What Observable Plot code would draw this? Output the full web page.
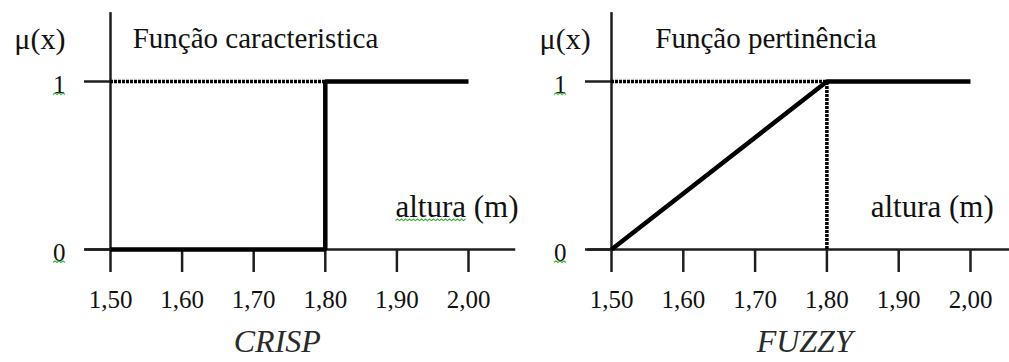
<!DOCTYPE html>
<html>
<head>
<meta charset="utf-8">
<script src="https://cdn.jsdelivr.net/npm/d3@7"></script>
<script src="https://cdn.jsdelivr.net/npm/@observablehq/plot@0.6"></script>
<style>
  body { margin: 0; background: #fff; }
  #wrap { position: relative; width: 1009px; height: 362px; overflow: hidden; }
  #wrap > svg { position: absolute; top: 0; background: transparent; }
</style>
</head>
<body>
<div id="wrap"></div>
<script>
// Height (m) ticks and membership ticks
const alturaTicks = [1.5, 1.6, 1.7, 1.8, 1.9, 2.0];
const muTicks = [0, 1];
const limiar = 1.8; // threshold height

// Characteristic (crisp) function: step at 1,80
const crispAltura = [1.5, 1.8, 1.8, 2.0];
const crispMu = [0, 0, 1, 1];

// Membership (fuzzy) function: linear ramp from 1,50 to 1,80
const fuzzyAltura = [1.5, 1.8, 2.0];
const fuzzyMu = [0, 1, 1];

const titulos = ["Função caracteristica", "Função pertinência"];
const legendas = ["CRISP", "FUZZY"];
const eixoX = "altura (m)";
const eixoY = "μ(x)";

const serif = "'Liberation Serif', 'Times New Roman', serif";
const ink = "#111";
const axisInk = "#1e1e1e";
const dotted = "3,1";
const fmt = d => d.toFixed(2).replace(".", ",");

// green spell-check squiggle under the first n characters of a text element
function squiggle(textEl, n) {
  let box;
  try { box = textEl.getBBox(); } catch (e) { return; }
  const full = textEl.getComputedTextLength();
  const part = n >= textEl.textContent.length ? full : textEl.getSubStringLength(0, n);
  const x0 = box.x, x1 = box.x + box.width * (part / full);
  const y = box.y + box.height - 3;
  const p = d3.path();
  p.moveTo(x0, y);
  let up = true;
  for (let x = x0 + 2; x <= x1 + 0.1; x += 2, up = !up) p.lineTo(x, y + (up ? -1.6 : 0));
  const path = document.createElementNS("http://www.w3.org/2000/svg", "path");
  path.setAttribute("d", p.toString());
  const tr = textEl.getAttribute("transform");
  if (tr) path.setAttribute("transform", tr);
  path.setAttribute("fill", "none");
  path.setAttribute("stroke", "#36b336");
  path.setAttribute("stroke-width", "1.1");
  textEl.parentNode.appendChild(path);
}

function painel({left, width, marginLeft, marginRight, xs, mus, titulo, legenda,
                 axisFrom, axisTo, muX, tituloX, alturaX, legendaX, fuzzy, spell}) {
  const pts = xs.map((x, i) => ({x, mu: mus[i]}));
  const svg = Plot.plot({
    width, height: 362,
    marginLeft, marginRight, marginTop: 81, marginBottom: 113,
    style: {fontFamily: serif, color: ink, background: "transparent", overflow: "visible"},
    x: {domain: [1.5, 2.0], label: null},
    y: {domain: [0, 1], label: null},
    marks: [
      // axis lines
      Plot.ruleY([0], {x1: axisFrom, x2: axisTo, stroke: axisInk, strokeWidth: 2.5}),
      Plot.ruleX([1.5], {y1: 0, y2: 1.41, stroke: axisInk, strokeWidth: 2.5}),
      Plot.axisX({ticks: alturaTicks, tickFormat: fmt, tickSize: 23, tickPadding: 18,
                  fontSize: 25, stroke: axisInk, strokeWidth: 2.5, label: null}),
      Plot.axisY({ticks: muTicks, tickFormat: () => "", tickSize: 26,
                  stroke: axisInk, strokeWidth: 2.5, label: null}),
      Plot.axisY({ticks: muTicks, tickFormat: String, tickSize: 0, tickPadding: 45,
                  fontSize: 25, dy: 3, label: null}),
      // dotted guides
      Plot.ruleY([1], {x1: 1.5, x2: limiar, stroke: "#000", strokeWidth: 3.5, strokeDasharray: dotted}),
      fuzzy ? Plot.ruleX([limiar], {y1: 0, y2: 1, stroke: "#000", strokeWidth: 3.5, strokeDasharray: dotted}) : null,
      // the function itself
      Plot.line(pts, {x: "x", y: "mu", stroke: "#000", strokeWidth: 4.5, strokeLinejoin: "miter", strokeLinecap: "butt"}),
      // annotations
      Plot.text([eixoY], {x: muX, y: 1.252, text: d => d, textAnchor: "end", fontSize: 30, fill: ink}),
      Plot.text([titulo], {x: tituloX, y: 1.252, text: d => d, textAnchor: "start", fontSize: 29, fill: ink}),
      Plot.text([eixoX], {x: alturaX, y: 0.255, text: d => d, textAnchor: "start", fontSize: 31, fill: ink}),
      Plot.text([legenda], {x: legendaX, y: -0.55, text: d => d, fontSize: 32, fontStyle: "italic", fill: "#2a2a2a"})
    ]
  });
  svg.style.left = left + "px";
  document.getElementById("wrap").appendChild(svg);
  // squiggles under the 0 / 1 labels, and under "altura" on the crisp panel
  svg.querySelectorAll("text").forEach(t => {
    const s = t.textContent;
    if (s === "0" || s === "1") squiggle(t, 1);
    else if (spell && s === eixoX) squiggle(t, 6);
  });
}

painel({left: 0, width: 520, marginLeft: 110, marginRight: 52,
        xs: crispAltura, mus: crispMu, titulo: titulos[0], legenda: legendas[0],
        axisFrom: 1.465, axisTo: 2.066, muX: 1.437, tituloX: 1.531, alturaX: 1.898,
        legendaX: 1.733, fuzzy: false, spell: true});

painel({left: 500, width: 509, marginLeft: 111, marginRight: 39,
        xs: fuzzyAltura, mus: fuzzyMu, titulo: titulos[1], legenda: legendas[1],
        axisFrom: 1.467, axisTo: 2.06, muX: 1.471, tituloX: 1.561, alturaX: 1.861,
        legendaX: 1.769, fuzzy: true, spell: false});
</script>
</body>
</html>
